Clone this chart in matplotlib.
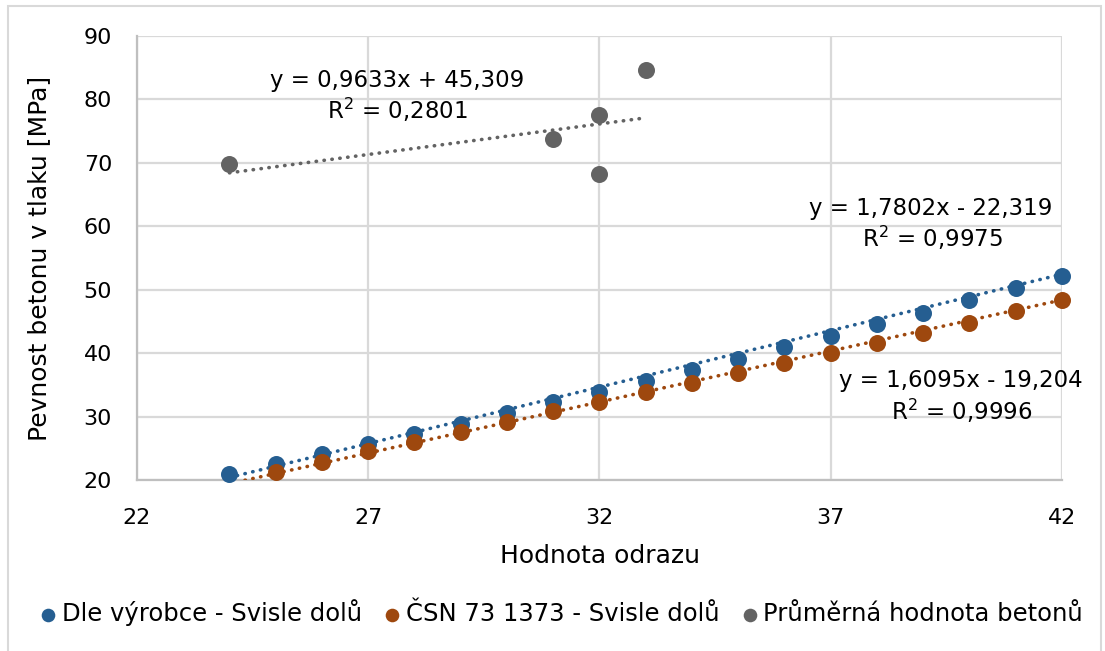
import numpy as np
import matplotlib.pyplot as plt
from matplotlib.patches import Rectangle

plt.rcParams['font.family'] = ['DejaVu Sans']

# Hodnota odrazu (rebound value) and compressive strength [MPa]
x_vyrobce = [24, 25, 26, 27, 28, 29, 30, 31, 32, 33, 34, 35, 36, 37, 38, 39, 40, 41, 42]
y_vyrobce = [20.95, 22.5, 24.1, 25.7, 27.3, 28.9, 30.6, 32.3, 33.95, 35.6, 37.35, 39.1,
             40.9, 42.75, 44.6, 46.4, 48.3, 50.3, 52.1]

x_csn = [24, 25, 26, 27, 28, 29, 30, 31, 32, 33, 34, 35, 36, 37, 38, 39, 40, 41, 42]
y_csn = [19.5, 21.3, 22.9, 24.5, 26.0, 27.6, 29.2, 30.8, 32.3, 33.8, 35.3, 36.9,
         38.4, 40.0, 41.55, 43.1, 44.7, 46.7, 48.4]

x_prumer = [24, 31, 32, 32, 33]
y_prumer = [69.8, 73.8, 77.6, 68.3, 84.7]

series_names = ['Dle výrobce - Svisle dolů', 'ČSN 73 1373 - Svisle dolů', 'Průměrná hodnota betonů']
series_colors = ['#255e91', '#9e480e', '#636363']

# Linear trendline coefficients (slope, intercept) and R^2
trend_slope = [1.7802, 1.6095, 0.9633]
trend_intercept = [-22.319, -19.204, 45.309]
trend_r2 = [0.9975, 0.9996, 0.2801]

x_ticks = [22, 27, 32, 37, 42]
y_ticks = [20, 30, 40, 50, 60, 70, 80, 90]

fig = plt.figure(figsize=(11.05, 6.51), dpi=100)
fig.patches.append(Rectangle((8 / 1105, -0.01), (1101 - 8) / 1105, (651 - 6) / 651 + 0.01,
                             transform=fig.transFigure, fill=False,
                             edgecolor='#d9d9d9', linewidth=1.5))

ax = fig.add_axes([137 / 1105, 1 - 480 / 651, (1062 - 137) / 1105, (480 - 36) / 651])
ax.set_xlim(22, 42)
ax.set_ylim(20, 90)

xs = [x_vyrobce, x_csn, x_prumer]
ys = [y_vyrobce, y_csn, y_prumer]

for i in range(3):
    x = np.array(xs[i], dtype=float)
    xl = np.array([x.min(), x.max()])
    ax.plot(xl, trend_slope[i] * xl + trend_intercept[i], color=series_colors[i],
            linewidth=2.6, linestyle=(0, (0.1, 2.1)), dash_capstyle='round', zorder=3)

for i in range(3):
    x = np.array(xs[i], dtype=float)
    y = np.array(ys[i], dtype=float)
    visible = y >= 20
    ax.scatter(x[visible], y[visible], s=150, color=series_colors[i], linewidths=0,
               zorder=4, label=series_names[i], clip_on=False)

ax.set_xticks(x_ticks)
ax.set_yticks(y_ticks)
ax.tick_params(axis='both', length=0, labelsize=16, colors='black')
ax.tick_params(axis='x', pad=20)
ax.tick_params(axis='y', pad=18)
ax.grid(True, color='#d9d9d9', linewidth=1.6)
ax.set_axisbelow(True)
for side in ['top', 'right']:
    ax.spines[side].set_visible(False)
for side in ['left', 'bottom']:
    ax.spines[side].set_color('#bfbfbf')
    ax.spines[side].set_linewidth(1.6)

ax.set_xlabel('Hodnota odrazu', fontsize=18, labelpad=12)
ax.set_ylabel('Pevnost betonu v tlaku [MPa]', fontsize=18, labelpad=23)

def eq_text(i):
    sign = '+' if trend_intercept[i] >= 0 else '-'
    eq = 'y = {}x {} {}'.format(f'{trend_slope[i]:.4f}'.replace('.', ','), sign,
                                f'{abs(trend_intercept[i]):.3f}'.replace('.', ','))
    r2 = 'R$^2$ = {}'.format(f'{trend_r2[i]:.4f}'.replace('.', ','))
    return eq, r2

label_pos = [(931, 208, 932, 238), (961, 380, 962, 411), (397, 80, 397, 110)]
for i in range(3):
    eq, r2 = eq_text(i)
    ex, ey, rx, ry = label_pos[i]
    ax.text(ex / 1105, 1 - ey / 651, eq, transform=fig.transFigure, ha='center', va='center',
            fontsize=16.5)
    ax.text(rx / 1105, 1 - ry / 651, r2, transform=fig.transFigure, ha='center', va='center',
            fontsize=16.5)

leg = fig.legend(loc='center', bbox_to_anchor=(560 / 1105, 1 - 613 / 651), ncol=3,
                 frameon=False, fontsize=17.5, handletextpad=0.1, columnspacing=0.8,
                 markerscale=0.8, handlelength=0.9)

fig.savefig('out.png', dpi=100)
